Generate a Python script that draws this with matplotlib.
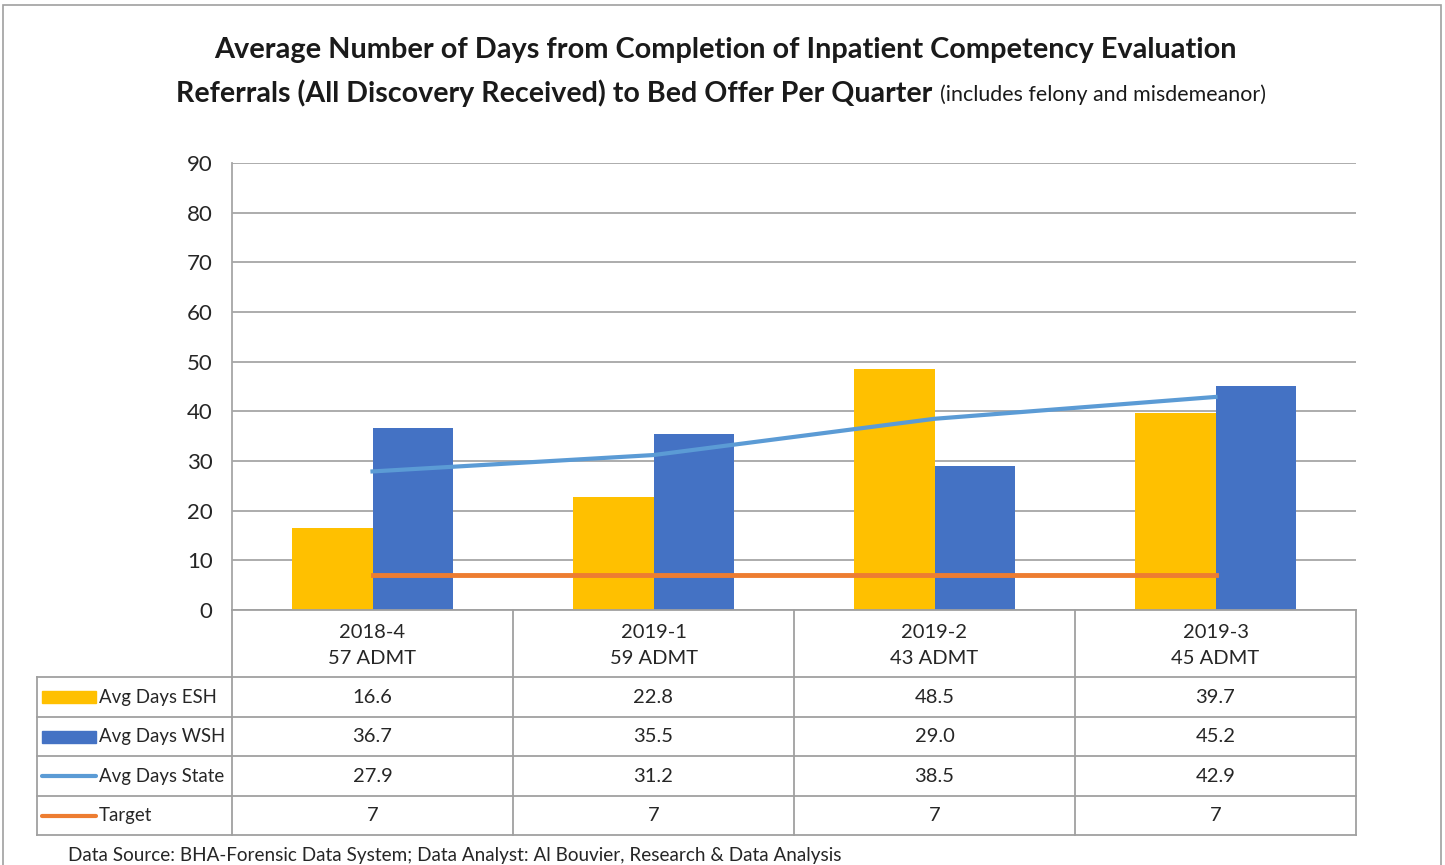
import numpy as np
import matplotlib.pyplot as plt
from matplotlib.patches import Rectangle

# Data
quarters = ['2018-4', '2019-1', '2019-2', '2019-3']
admits = ['57 ADMT', '59 ADMT', '43 ADMT', '45 ADMT']
esh = [16.6, 22.8, 48.5, 39.7]
wsh = [36.7, 35.5, 29.0, 45.2]
state = [27.9, 31.2, 38.5, 42.9]
target = [7, 7, 7, 7]
series_names = ['Avg Days ESH', 'Avg Days WSH', 'Avg Days State', 'Target']

c_esh, c_wsh, c_state, c_target = '#FFC000', '#4472C4', '#5B9BD5', '#ED7D31'
grid_c = '#A6A6A6'
txt_c = '#262626'

plt.rcParams['font.family'] = ['Lato', 'DejaVu Sans']

W, H = 1445, 865
fig = plt.figure(figsize=(W / 100, H / 100), dpi=100)


def fx(px):
    return px / W


def fy(py):
    return 1 - py / H


# outer frame of the chart
fig.add_artist(Rectangle((fx(3), fy(900)), fx(1438), (900 - 5) / H,
                         transform=fig.transFigure, fill=False,
                         edgecolor='#A0A0A0', lw=1.2))

# title
fig.text(fx(725), fy(50), 'Average Number of Days from Completion of Inpatient Competency Evaluation',
         ha='center', va='center', fontsize=20.8, fontweight='bold', color='#1a1a1a')
fig.text(fx(932), fy(93), 'Referrals (All Discovery Received) to Bed Offer Per Quarter',
         ha='right', va='center', fontsize=20.6, fontweight='bold', color='#1a1a1a')
fig.text(fx(940), fy(95), '(includes felony and misdemeanor)',
         ha='left', va='center', fontsize=15.4, color='#1a1a1a')

# main plot area
ax = fig.add_axes([fx(232), fy(610), fx(1356 - 232), (610 - 163) / H])
x = np.arange(len(quarters))
bw = 0.285
ax.bar(x - bw / 2, esh, bw, color=c_esh, zorder=2)
ax.bar(x + bw / 2, wsh, bw, color=c_wsh, zorder=2)
ax.plot(x, state, color=c_state, lw=3, zorder=3)
ax.plot(x, target, color=c_target, lw=3.5, zorder=3)
ax.set_xlim(-0.5, len(quarters) - 0.5)
ax.set_ylim(0, 90)
ax.set_yticks(np.arange(0, 91, 10))
ax.yaxis.grid(True, color=grid_c, lw=1.3, zorder=0)
ax.set_axisbelow(True)
ax.set_xticks([])
ax.tick_params(axis='y', length=0, pad=14, labelsize=16, labelcolor=txt_c)
for s in ['top', 'right', 'bottom']:
    ax.spines[s].set_visible(False)
ax.spines['left'].set_color(grid_c)
ax.spines['left'].set_linewidth(1.3)

# data table drawn in pixel coordinates
tb = fig.add_axes([fx(36), fy(836), fx(1357 - 36), (836 - 609) / H])
tb.set_xlim(36, 1357)
tb.set_ylim(836, 609)
tb.axis('off')

col_edges = [232, 513, 794, 1075, 1356]
row_edges = [677, 717, 756, 796, 835]
lc = dict(color='#A0A0A0', lw=1.3)

tb.plot([232, 1356], [610, 610], **lc)
for cx in col_edges:
    tb.plot([cx, cx], [610, 835], **lc)
tb.plot([37, 37], [677, 835], **lc)
for ry in row_edges:
    tb.plot([37, 1356], [ry, ry], **lc)

centers = [(col_edges[i] + col_edges[i + 1]) / 2 for i in range(len(quarters))]
for cx, q, a in zip(centers, quarters, admits):
    tb.text(cx, 632, q, ha='center', va='center', fontsize=14.5, color=txt_c)
    tb.text(cx, 658, a, ha='center', va='center', fontsize=14.5, color=txt_c)

rows = [[f'{v:.1f}' for v in esh], [f'{v:.1f}' for v in wsh],
        [f'{v:.1f}' for v in state], [f'{v:g}' for v in target]]
for r in range(4):
    cy = (row_edges[r] + row_edges[r + 1]) / 2
    for cx, val in zip(centers, rows[r]):
        tb.text(cx, cy, val, ha='center', va='center', fontsize=14.5, color=txt_c)
    if r < 2:
        tb.add_patch(Rectangle((42, cy - 6), 54, 12, color=[c_esh, c_wsh][r]))
    else:
        tb.plot([42, 96], [cy, cy], color=[c_state, c_target][r - 2], lw=3,
                solid_capstyle='round')
    tb.text(99, cy, series_names[r], ha='left', va='center', fontsize=13.4, color=txt_c)

fig.text(fx(68), fy(856), 'Data Source: BHA-Forensic Data System; Data Analyst: Al Bouvier, Research & Data Analysis',
         ha='left', va='center', fontsize=13.6, color=txt_c)

fig.savefig('out.png', dpi=100)
